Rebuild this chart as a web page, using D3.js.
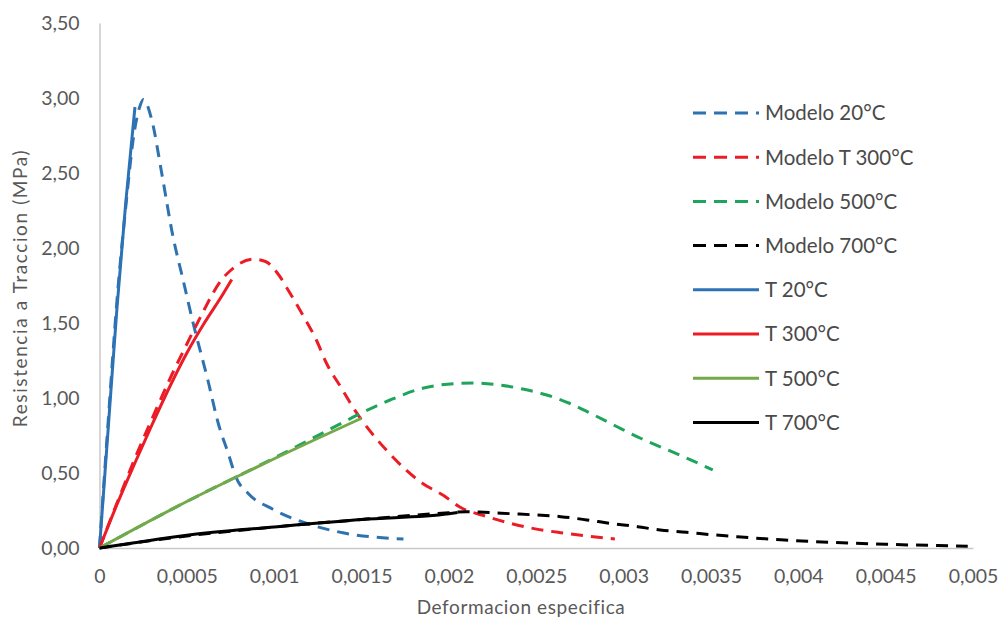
<!DOCTYPE html>
<html>
<head>
<meta charset="utf-8">
<script src="https://cdn.jsdelivr.net/npm/d3@7"></script>
<style>
  html, body { margin: 0; padding: 0; background: #ffffff; }
  svg { display: block; font-family: Lato, "Open Sans", sans-serif; }
</style>
</head>
<body>
<svg id="chart" width="1003" height="626"></svg>
<script>
// Tensile strength vs. specific strain: model curves (dashed) and test curves (solid)
const xTickValues = [0, 0.0005, 0.001, 0.0015, 0.002, 0.0025, 0.003, 0.0035, 0.004, 0.0045, 0.005];
const yTickValues = [0, 0.5, 1, 1.5, 2, 2.5, 3, 3.5];

const seriesNames = ["Modelo 20°C", "Modelo T 300°C", "Modelo 500°C", "Modelo 700°C",
                     "T 20°C", "T 300°C", "T 500°C", "T 700°C"];

// [strain, stress MPa]
const modelo20 = [[0,0],[0.00005,0.85],[0.0001,1.65],[0.00015,2.27],[0.0002,2.78],[0.00023,2.94],[0.000251,2.99],
  [0.0003,2.85],[0.000356,2.5],[0.00042,2.08],[0.00048,1.78],[0.00054,1.48],[0.00058,1.3],[0.00062,1.12],
  [0.00068,0.83],[0.00074,0.62],[0.00078,0.475],[0.00085,0.365],[0.00099,0.26],[0.00117,0.17],[0.0014,0.1],[0.00174,0.06]];
const modelo300 = [[0,0],[0.0001,0.3],[0.0002,0.59],[0.0003,0.86],[0.0004,1.12],[0.0005,1.36],[0.0006,1.59],
  [0.00065,1.7],[0.0007,1.79],[0.00075,1.85],[0.0008,1.895],[0.00088,1.925],[0.00095,1.91],[0.00102,1.83],
  [0.00109,1.7],[0.00117,1.54],[0.00124,1.39],[0.0013,1.23],[0.00138,1.075],[0.00145,0.94],[0.00166,0.63],
  [0.00185,0.43],[0.00197,0.35],[0.00206,0.275],[0.00222,0.209],[0.00235,0.165],[0.00248,0.131],
  [0.00264,0.102],[0.00279,0.08],[0.00295,0.06]];
const modelo500 = [[0,0],[0.0005,0.31],[0.001,0.6],[0.0013,0.78],[0.0015,0.9],[0.00166,0.985],[0.00185,1.065],
  [0.00195,1.087],[0.00214,1.1],[0.00229,1.087],[0.00243,1.058],[0.00256,1.02],[0.00269,0.965],[0.00283,0.887],
  [0.00296,0.81],[0.0031,0.73],[0.00323,0.665],[0.00336,0.6],[0.00351,0.52]];
const modelo700 = [[0,0],[0.0005,0.08],[0.001,0.14],[0.0015,0.19],[0.002,0.235],[0.0021,0.242],[0.0022,0.238],
  [0.00235,0.229],[0.0025,0.22],[0.00264,0.209],[0.00279,0.187],[0.00292,0.165],[0.00308,0.142],[0.00321,0.12],
  [0.00336,0.105],[0.00352,0.087],[0.00365,0.075],[0.0039,0.055],[0.0042,0.037],[0.0045,0.025],[0.0048,0.016],
  [0.00497,0.012]];
const ensayo20 = [[0,0],[0.00005,0.8],[0.0001,1.6],[0.00015,2.3],[0.000203,2.94]];
const ensayo300 = [[0,0],[0.0001,0.29],[0.0002,0.56],[0.0003,0.82],[0.0004,1.07],[0.0005,1.3],[0.0006,1.5],
  [0.0007,1.68],[0.000757,1.79]];
const ensayo500 = [[0,0],[0.0005,0.31],[0.000786,0.475],[0.001,0.595],[0.0015,0.865]];
const ensayo700 = [[0,0],[0.0002,0.035],[0.0005,0.085],[0.001,0.14],[0.0015,0.19],[0.002,0.228],[0.00205,0.236]];

const seriesData = [modelo20, modelo300, modelo500, modelo700, ensayo20, ensayo300, ensayo500, ensayo700];

const seriesStyle = [
  { color: "#2e72b0", dash: "12,8" },
  { color: "#ec1c27", dash: "12,8" },
  { color: "#1fa45c", dash: "12,8" },
  { color: "#000000", dash: "12,8" },
  { color: "#2e72b6", dash: null },
  { color: "#ec1c27", dash: null },
  { color: "#74a94a", dash: null },
  { color: "#000000", dash: null }
];

const svg = d3.select("#chart");
const x = d3.scaleLinear().domain([0, 0.005]).range([99.5, 973]);
const y = d3.scaleLinear().domain([0, 3.5]).range([548, 23]);

const comma = s => s.replace(".", ",");
const textColor = "#595959";
const axisColor = "#c8c8c8";

// axes
const xAxis = svg.append("g").attr("transform", `translate(0,${y(0)})`)
  .call(d3.axisBottom(x).tickValues(xTickValues).tickSize(0).tickPadding(21)
    .tickFormat(d => comma(String(+d.toPrecision(6)))));
const yAxis = svg.append("g").attr("transform", `translate(${x(0)},0)`)
  .call(d3.axisLeft(y).tickValues(yTickValues).tickSize(0).tickPadding(20)
    .tickFormat(d => comma(d.toFixed(2))));
[xAxis, yAxis].forEach(g => {
  g.select(".domain").attr("stroke", axisColor).attr("stroke-width", 1.5);
  g.selectAll("text").attr("fill", textColor).style("font-size", "19.5px")
    .style("font-family", "Lato, 'Open Sans', sans-serif");
});

// axis titles
svg.append("text").attr("x", 521).attr("y", 614).attr("text-anchor", "middle")
  .attr("fill", textColor).style("font-size", "19px").style("letter-spacing", "0.6px")
  .text("Deformacion especifica");
svg.append("text").attr("transform", "translate(27,288) rotate(-90)").attr("text-anchor", "middle")
  .attr("fill", textColor).style("font-size", "19px").style("letter-spacing", "1.6px")
  .text("Resistencia a Traccion (MPa)");

// curves
const line = d3.line().x(d => x(d[0])).y(d => y(d[1])).curve(d3.curveMonotoneX);
seriesData.forEach((data, i) => {
  svg.append("path").datum(data)
    .attr("d", line)
    .attr("fill", "none")
    .attr("stroke", seriesStyle[i].color)
    .attr("stroke-width", 3)
    .attr("stroke-linejoin", "round")
    .attr("stroke-dasharray", seriesStyle[i].dash);
});

// legend
const legend = svg.append("g");
seriesNames.forEach((name, i) => {
  const ly = 113 + i * 44.2;
  legend.append("line").attr("x1", 693).attr("x2", 759).attr("y1", ly).attr("y2", ly)
    .attr("stroke", seriesStyle[i].color).attr("stroke-width", 3)
    .attr("stroke-dasharray", seriesStyle[i].dash ? "13,8" : null);
  legend.append("text").attr("x", 765).attr("y", ly).attr("dy", "0.36em")
    .attr("fill", "#4a4a4a").style("font-size", "20.5px").text(name);
});
</script>
</body>
</html>
